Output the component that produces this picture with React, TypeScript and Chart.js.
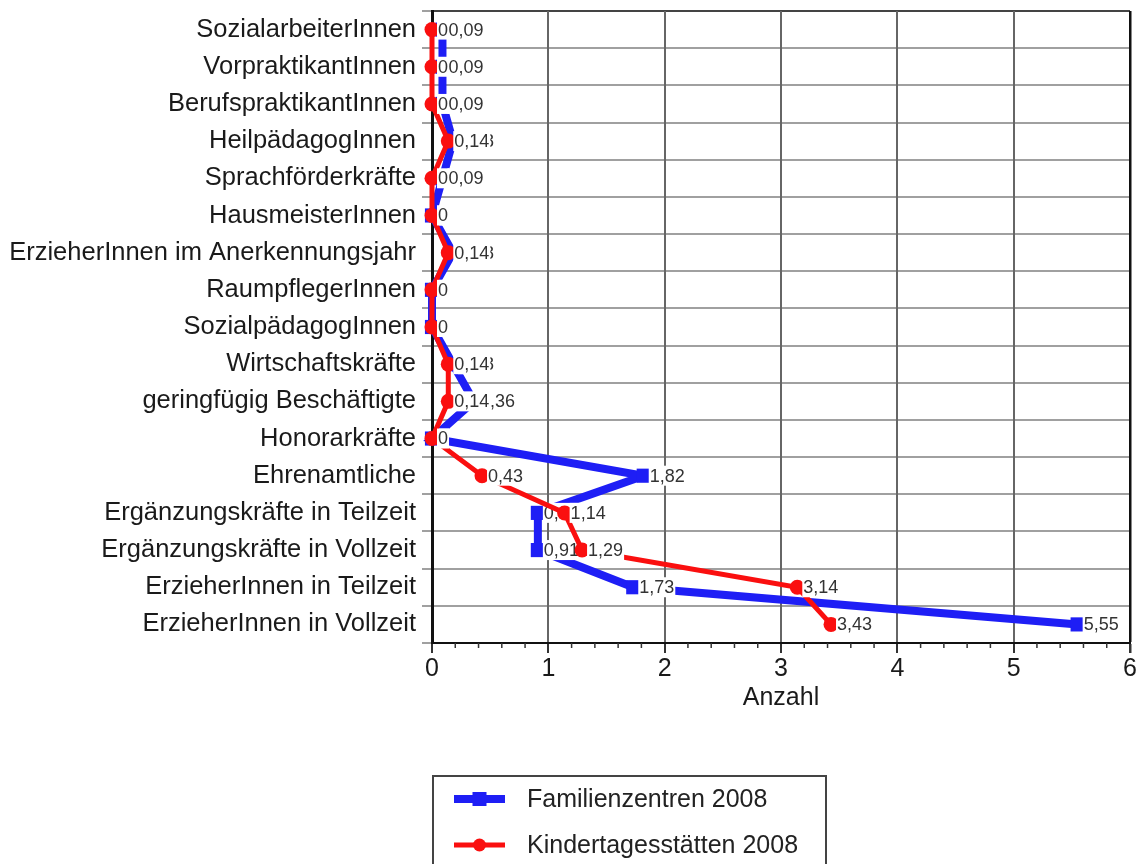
import React, { useEffect, useRef } from "react";
import { Chart, registerables } from "chart.js";

Chart.register(...registerables);

// Staff categories, top to bottom
const categories = [
  "SozialarbeiterInnen",
  "VorpraktikantInnen",
  "BerufspraktikantInnen",
  "HeilpädagogInnen",
  "Sprachförderkräfte",
  "HausmeisterInnen",
  "ErzieherInnen im Anerkennungsjahr",
  "RaumpflegerInnen",
  "SozialpädagogInnen",
  "Wirtschaftskräfte",
  "geringfügig Beschäftigte",
  "Honorarkräfte",
  "Ehrenamtliche",
  "Ergänzungskräfte in Teilzeit",
  "Ergänzungskräfte in Vollzeit",
  "ErzieherInnen in Teilzeit",
  "ErzieherInnen in Vollzeit",
];

const familienzentren = [0.09, 0.09, 0.09, 0.18, 0.09, 0, 0.18, 0, 0, 0.18, 0.36, 0, 1.82, 0.91, 0.91, 1.73, 5.55];
const kitas = [0, 0, 0, 0.14, 0, 0, 0.14, 0, 0, 0.14, 0.14, 0, 0.43, 1.14, 1.29, 3.14, 3.43];

const seriesNames = ["Familienzentren 2008", "Kindertagesstätten 2008"];
const xTicks = [0, 1, 2, 3, 4, 5, 6];
const axisTitle = "Anzahl";

const FONT = '"Liberation Sans", Arial, Helvetica, sans-serif';
const BLUE = "rgb(30,30,245)";
const RED = "rgb(250,15,15)";

const fmt = (v: number) => String(v).replace(".", ",");

// Value labels on white boxes, drawn right after each series
const valueLabels = {
  id: "valueLabels",
  afterDatasetDraw(chart: any, args: any) {
    const ctx = chart.ctx;
    const ds = chart.data.datasets[args.index];
    ctx.save();
    ctx.font = `18px ${FONT}`;
    ctx.textBaseline = "middle";
    ctx.textAlign = "left";
    args.meta.data.forEach((pt: any, i: number) => {
      const txt = fmt(ds.data[i]);
      const w = ctx.measureText(txt).width;
      ctx.fillStyle = "#fff";
      ctx.fillRect(pt.x + 5, pt.y - 10, w + 2, 20);
      ctx.fillStyle = "#333";
      ctx.fillText(txt, pt.x + 6, pt.y + 1);
    });
    ctx.restore();
  },
};

// Minor x ticks and the framed legend below the plot
const extras = {
  id: "extras",
  afterDraw(chart: any) {
    const ctx = chart.ctx;
    const xs = chart.scales.x;
    const area = chart.chartArea;
    ctx.save();
    ctx.strokeStyle = "#333";
    ctx.lineWidth = 1.5;
    for (let i = 0; i <= 30; i++) {
      if (i % 5 === 0) continue;
      const px = xs.getPixelForValue(i / 5);
      ctx.beginPath();
      ctx.moveTo(px, area.bottom);
      ctx.lineTo(px, area.bottom + 5);
      ctx.stroke();
    }

    const left = area.left + 1;
    const top = area.bottom + 133;
    ctx.strokeStyle = "#444";
    ctx.lineWidth = 2;
    ctx.strokeRect(left, top, 393, 120);
    ctx.font = `25px ${FONT}`;
    ctx.textBaseline = "middle";
    ctx.fillStyle = "#222";
    chart.data.datasets.forEach((ds: any, i: number) => {
      const y = top + 23 + i * 46;
      const x0 = left + 21;
      const x1 = left + 72;
      ctx.strokeStyle = ds.borderColor;
      ctx.lineWidth = ds.borderWidth;
      ctx.beginPath();
      ctx.moveTo(x0, y);
      ctx.lineTo(x1, y);
      ctx.stroke();
      ctx.fillStyle = ds.backgroundColor;
      const cx = (x0 + x1) / 2;
      if (ds.pointStyle === "rect") {
        ctx.fillRect(cx - 7, y - 7, 14, 14);
      } else {
        ctx.beginPath();
        ctx.arc(cx, y, 6.5, 0, Math.PI * 2);
        ctx.fill();
      }
      ctx.fillStyle = "#222";
      ctx.fillText(ds.label, left + 94, y + 1);
    });
    ctx.restore();
  },
};

export default function App() {
  const ref = useRef<HTMLCanvasElement>(null);

  useEffect(() => {
    if (!ref.current) return;
    Chart.defaults.font.family = FONT;
    const chart = new Chart(ref.current, {
      type: "line",
      data: {
        labels: categories,
        datasets: [
          {
            label: seriesNames[0],
            data: familienzentren,
            borderColor: BLUE,
            backgroundColor: BLUE,
            borderWidth: 8,
            pointStyle: "rect",
            pointRadius: 10,
            pointBorderWidth: 0,
            tension: 0,
            order: 2,
            clip: false,
          },
          {
            label: seriesNames[1],
            data: kitas,
            borderColor: RED,
            backgroundColor: RED,
            borderWidth: 5,
            pointStyle: "circle",
            pointRadius: 7.5,
            pointBorderWidth: 0,
            tension: 0,
            order: 1,
            clip: false,
          },
        ],
      },
      options: {
        indexAxis: "y",
        responsive: false,
        animation: false,
        devicePixelRatio: 1,
        layout: { padding: { top: 11, right: 11, left: 0, bottom: 151 } },
        plugins: {
          legend: { display: false },
          tooltip: { enabled: false },
        },
        scales: {
          y: {
            type: "category",
            offset: true,
            grid: {
              offset: true,
              color: (c: any) => (c.index === 0 ? "#444" : "#a0a0a0"),
              lineWidth: 2,
              tickLength: 10,
              tickColor: "#a0a0a0",
            },
            border: { display: true, color: "#111", width: 3 },
            ticks: {
              color: "#1a1a1a",
              font: { size: 25.5 },
              padding: 6,
              autoSkip: false,
            },
            afterFit(s: any) {
              s.width = 432;
              s.paddingTop = 0;
              s.paddingBottom = 0;
            },
          },
          x: {
            type: "linear",
            min: 0,
            max: 6,
            afterBuildTicks(s: any) {
              s.ticks = xTicks.map((v) => ({ value: v }));
            },
            grid: {
              color: (c: any) => (c.tick && c.tick.value === 6 ? "#111" : "#666"),
              lineWidth: (c: any) => (c.tick && c.tick.value === 6 ? 2.5 : 2),
              tickLength: 10,
              tickColor: "#333",
            },
            border: { display: true, color: "#111", width: 2 },
            ticks: {
              color: "#1a1a1a",
              font: { size: 25 },
              padding: 1,
              callback: (v: any) => String(v),
            },
            title: {
              display: true,
              text: axisTitle,
              color: "#1a1a1a",
              font: { size: 25 },
              padding: { top: 2, bottom: 0 },
            },
            afterFit(s: any) {
              s.height = 70;
              s.paddingLeft = 0;
              s.paddingRight = 0;
            },
          },
        },
      },
      plugins: [valueLabels, extras],
    });
    return () => chart.destroy();
  }, []);

  return (
    <div style={{ position: "fixed", left: 0, top: 0, width: 1141, height: 864, background: "#fff" }}>
      <canvas ref={ref} width={1141} height={864} />
    </div>
  );
}
